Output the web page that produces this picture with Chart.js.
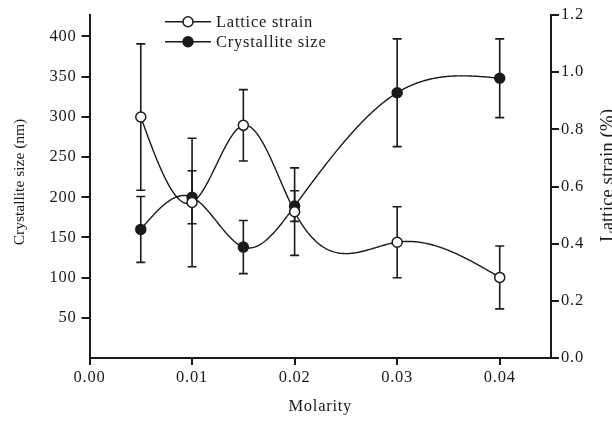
<!DOCTYPE html>
<html>
<head>
<meta charset="utf-8">
<script src="https://cdn.jsdelivr.net/npm/chart.js@4/dist/chart.umd.min.js"></script>
<style>
html,body{margin:0;padding:0;background:#fff;}
#wrap{width:612px;height:421px;position:relative;}
</style>
</head>
<body>
<div id="wrap"><canvas id="c" width="612" height="421"></canvas></div>
<script>
// ---- data ----
const molarity = [0.005, 0.01, 0.015, 0.02, 0.03, 0.04];
const crystalliteSize = [160, 200, 138, 189, 330, 348];       // nm (left axis)
const crystalliteErr  = [41, 33, 33, 19, 67, 49];
const latticeStrain   = [0.843, 0.544, 0.814, 0.512, 0.405, 0.282]; // % (right axis)
const latticeErr      = [0.256, 0.225, 0.125, 0.153, 0.124, 0.110];
const xTicks = [0, 0.01, 0.02, 0.03, 0.04];
const leftTicks = [50, 100, 150, 200, 250, 300, 350, 400];
const rightTicks = [0, 0.2, 0.4, 0.6, 0.8, 1.0, 1.2];
const labels = { strain: 'Lattice strain', size: 'Crystallite size',
  x: 'Molarity', left: 'Crystallite size (nm)', right: 'Lattice strain (%)' };

const FONT = 'Liberation Serif';
const TXT = '#1a1a1a';

const toXY = (xs, ys) => xs.map((x, i) => ({x: x, y: ys[i]}));

// natural cubic spline through pixel points (from the chart scales)
function naturalSpline(pts) {
  const n = pts.length - 1;
  const h = [], M = new Array(n + 1).fill(0);
  for (let i = 0; i < n; i++) h[i] = pts[i + 1].x - pts[i].x;
  const A = [], B = [], C = [], D = [];
  for (let i = 1; i < n; i++) {
    A.push(h[i - 1]); B.push(2 * (h[i - 1] + h[i])); C.push(h[i]);
    D.push(6 * ((pts[i + 1].y - pts[i].y) / h[i] - (pts[i].y - pts[i - 1].y) / h[i - 1]));
  }
  const m = B.length;
  for (let i = 1; i < m; i++) {
    const w = A[i] / B[i - 1];
    B[i] -= w * C[i - 1]; D[i] -= w * D[i - 1];
  }
  const sol = new Array(m);
  for (let i = m - 1; i >= 0; i--) sol[i] = (D[i] - (i < m - 1 ? C[i] * sol[i + 1] : 0)) / B[i];
  for (let i = 0; i < m; i++) M[i + 1] = sol[i];
  return (x) => {
    let i = 0;
    while (i < n - 1 && x > pts[i + 1].x) i++;
    const t1 = pts[i + 1].x - x, t0 = x - pts[i].x, hi = h[i];
    return M[i] * t1 * t1 * t1 / (6 * hi) + M[i + 1] * t0 * t0 * t0 / (6 * hi)
      + (pts[i].y / hi - M[i] * hi / 6) * t1 + (pts[i + 1].y / hi - M[i + 1] * hi / 6) * t0;
  };
}

const curvePlugin = {
  id: 'curves',
  beforeDatasetsDraw(chart) {
    const ctx = chart.ctx;
    ctx.save();
    // error bars
    ctx.strokeStyle = TXT;
    ctx.lineWidth = 1.6;
    chart.data.datasets.forEach((ds) => {
      const xs = chart.scales.x;
      const ys = chart.scales[ds.yAxisID];
      ds.data.forEach((p, i) => {
        const e = ds.errors[i];
        const px = xs.getPixelForValue(p.x);
        const top = ys.getPixelForValue(p.y + e);
        const bot = ys.getPixelForValue(p.y - e);
        ctx.beginPath();
        ctx.moveTo(px, top); ctx.lineTo(px, bot);
        ctx.moveTo(px - 4.5, top); ctx.lineTo(px + 4.5, top);
        ctx.moveTo(px - 4.5, bot); ctx.lineTo(px + 4.5, bot);
        ctx.stroke();
      });
    });
    // spline curves
    ctx.lineWidth = 1.4;
    chart.data.datasets.forEach((ds) => {
      const xs = chart.scales.x;
      const ys = chart.scales[ds.yAxisID];
      const pts = ds.data.map(p => ({x: xs.getPixelForValue(p.x), y: ys.getPixelForValue(p.y)}));
      const f = naturalSpline(pts);
      ctx.beginPath();
      ctx.moveTo(pts[0].x, pts[0].y);
      for (let x = pts[0].x; x <= pts[pts.length - 1].x; x += 1) ctx.lineTo(x, f(x));
      ctx.lineTo(pts[pts.length - 1].x, pts[pts.length - 1].y);
      ctx.stroke();
    });
    ctx.restore();
  }
};

const spacingPlugin = {
  id: 'spacing',
  beforeDraw(chart) { chart.ctx.letterSpacing = '0.75px'; }
};

const decorPlugin = {
  id: 'decor',
  afterDraw(chart) {
    const ctx = chart.ctx;
    const ca = chart.chartArea;
    ctx.save();
    ctx.fillStyle = TXT;
    ctx.textBaseline = 'middle';
    ctx.textAlign = 'center';
    ctx.letterSpacing = '0.75px';
    ctx.font = '16.5px "' + FONT + '"';
    // x title
    ctx.fillText(labels.x, (ca.left + ca.right) / 2, 407);
    // rotated titles (not stretched)
    ctx.letterSpacing = '0px';
    ctx.font = '15.5px "' + FONT + '"';
    ctx.save();
    ctx.translate(20, 182);
    ctx.rotate(-Math.PI / 2);
    ctx.fillText(labels.left, 0, 0);
    ctx.restore();
    ctx.save();
    ctx.font = '19px "' + FONT + '"';
    ctx.textBaseline = 'alphabetic';
    ctx.translate(612.5, 175.5);
    ctx.rotate(-Math.PI / 2);
    ctx.fillText(labels.right, 0, 0);
    ctx.restore();
    // legend
    ctx.letterSpacing = '0.75px';
    ctx.font = '16.5px "' + FONT + '"';
    [0, 1].forEach((di, k) => {
      const ds = chart.data.datasets[di];
      const y = 21.7 + 20 * k;
      ctx.strokeStyle = TXT;
      ctx.lineWidth = 1.5;
      ctx.beginPath(); ctx.moveTo(165, y); ctx.lineTo(211, y); ctx.stroke();
      ctx.beginPath(); ctx.arc(188, y, 5, 0, Math.PI * 2);
      ctx.fillStyle = ds.pointBackgroundColor; ctx.fill();
      ctx.lineWidth = 1.5; ctx.stroke();
      ctx.fillStyle = TXT;
      ctx.textAlign = 'left';
      ctx.fillText(ds.label, 216, y + 1);
    });
    ctx.restore();
  }
};

new Chart(document.getElementById('c'), {
  type: 'line',
  data: {
    datasets: [
      {
        label: labels.strain,
        data: toXY(molarity, latticeStrain),
        errors: latticeErr,
        yAxisID: 'y1',
        showLine: false,
        borderColor: TXT, borderWidth: 1.4,
        pointBackgroundColor: '#ffffff', pointBorderColor: TXT,
        pointBorderWidth: 1.5, pointRadius: 5,
        fill: false, order: 0
      },
      {
        label: labels.size,
        data: toXY(molarity, crystalliteSize),
        errors: crystalliteErr,
        yAxisID: 'y',
        showLine: false,
        borderColor: TXT, borderWidth: 1.4,
        pointBackgroundColor: TXT, pointBorderColor: TXT,
        pointBorderWidth: 1.5, pointRadius: 5,
        fill: false, order: 1
      }
    ]
  },
  options: {
    responsive: false,
    animation: false,
    events: [],
    layout: { padding: { top: 15, left: 0, right: 0, bottom: 0 } },
    plugins: { legend: { display: false }, tooltip: { enabled: false } },
    scales: {
      x: {
        type: 'linear', min: 0, max: 0.045,
        afterBuildTicks: (s) => { s.ticks = xTicks.map(v => ({value: v})); },
        afterFit: (s) => { s.height = 63; },
        ticks: { color: TXT, font: { family: FONT, size: 16.5 }, padding: 3,
                 maxRotation: 0, callback: (v) => Number(v).toFixed(2) },
        grid: { display: true, drawOnChartArea: false, drawTicks: true, tickLength: 7,
                color: TXT, lineWidth: 2 },
        border: { display: true, color: TXT, width: 2 }
      },
      y: {
        type: 'linear', position: 'left', min: 0, max: 426.7,
        afterBuildTicks: (s) => { s.ticks = leftTicks.map(v => ({value: v})); },
        afterFit: (s) => { s.width = 89.5; },
        ticks: { color: TXT, font: { family: FONT, size: 16.5 }, padding: 5 },
        grid: { display: true, drawOnChartArea: false, drawTicks: true, tickLength: 8,
                color: TXT, lineWidth: 2 },
        border: { display: true, color: TXT, width: 2 }
      },
      y1: {
        type: 'linear', position: 'right', min: 0, max: 1.2,
        afterBuildTicks: (s) => { s.ticks = rightTicks.map(v => ({value: v})); },
        afterFit: (s) => { s.width = 61; },
        ticks: { color: TXT, font: { family: FONT, size: 16.5 }, padding: 2,
                 callback: (v) => Number(v).toFixed(1) },
        grid: { display: true, drawOnChartArea: false, drawTicks: true, tickLength: 8,
                color: TXT, lineWidth: 2 },
        border: { display: true, color: TXT, width: 2 }
      }
    }
  },
  plugins: [spacingPlugin, curvePlugin, decorPlugin]
});
</script>
</body>
</html>
